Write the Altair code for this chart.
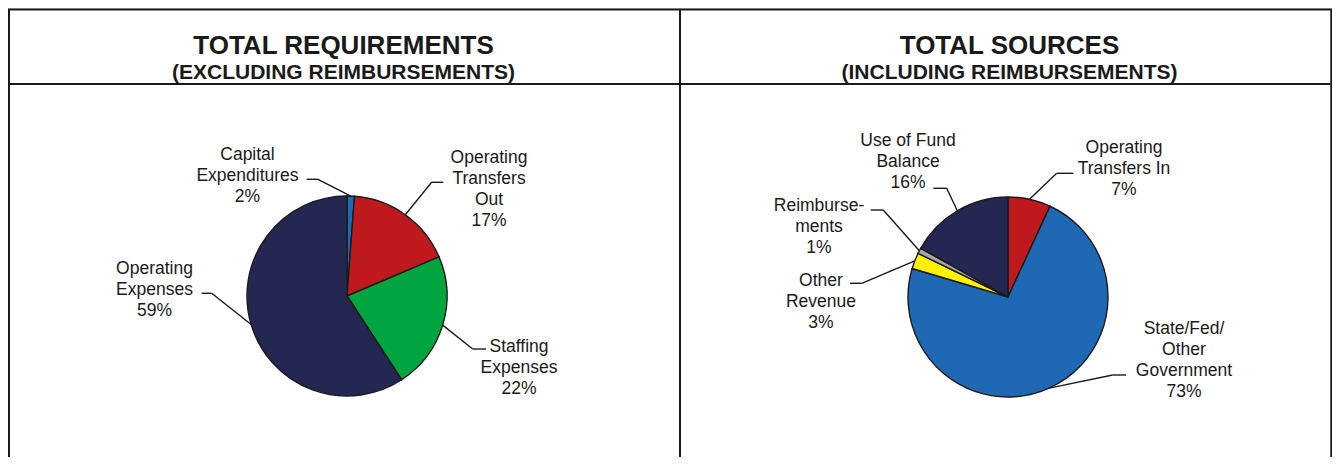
import math
import altair as alt
import pandas as pd

# ---------------- data ----------------
req_names = ["Capital Expenditures", "Operating Transfers Out", "Staffing Expenses", "Operating Expenses"]
req_lines = [["Capital", "Expenditures"], ["Operating", "Transfers", "Out"], ["Staffing", "Expenses"], ["Operating", "Expenses"]]
req_values = [1.2, 17.4, 22.2, 59.2]
req_pct = ["2%", "17%", "22%", "59%"]

src_names = ["Operating Transfers In", "State/Fed/Other Government", "Other Revenue", "Reimbursements", "Use of Fund Balance"]
src_lines = [["Operating", "Transfers In"], ["State/Fed/", "Other", "Government"], ["Other", "Revenue"], ["Reimburse-", "ments"], ["Use of Fund", "Balance"]]
src_values = [6.9, 72.7, 2.6, 0.9, 16.9]
src_pct = ["7%", "73%", "3%", "1%", "16%"]

titles = ["TOTAL REQUIREMENTS", "TOTAL SOURCES"]
subtitles = ["(EXCLUDING REIMBURSEMENTS)", "(INCLUDING REIMBURSEMENTS)"]

# ---------------- styles / layout (page pixel coordinates) ----------------
req_colors = ["#1F69B4", "#BE1A1E", "#00A53F", "#232752"]
src_colors = ["#BE1A1E", "#1F69B4", "#FFF100", "#A6A6A6", "#232752"]
OFF = 8  # page margin
R = 100
centers = [(347, 296), (1008, 297)]
title_cx = [343.5, 1009.5]
FS = 17.5
LH = 21
# per slice: text centre x, cap top y, leader start x, leader y, elbow x
req_layout = [(247.5, 147, 306.7, 179.3, 318.0),
              (489.0, 150, 443.3, 182.3, 431.7),
              (519.0, 339.5, 486.0, 349.0, 472.7),
              (154.5, 261, 201.7, 293.3, 211.7)]
src_layout = [(1124.0, 140.7, 1073.3, 173.3, 1056.7),
              (1184.0, 321.7, 1126.0, 375.0, 1112.7),
              (821.0, 273.3, 850.0, 283.3, 861.7),
              (819.0, 198.3, 870.7, 210.0, 883.3),
              (908.0, 133.3, 933.3, 188.3, 946.7)]

def pie_frames(names, lines, values, pct, layout, center):
    total = sum(values)
    cum = 0.0
    slices, texts, segs = [], [], []
    for i, (n, ln, v, p, lay) in enumerate(zip(names, lines, values, pct, layout)):
        mid = (cum + v / 2) / total * 2 * math.pi
        cum += v
        slices.append({"idx": i, "name": n, "value": v})
        px_ = center[0] + R * math.sin(mid)
        py_ = center[1] - R * math.cos(mid)
        cx, top, hx, hy, ex = lay
        texts.append({"x": cx - OFF, "y": top - 0.074 * FS - OFF, "label": "\n".join(ln + [p])})
        segs.append({"x": hx - OFF, "y": hy - OFF, "x2": ex - OFF, "y2": hy - OFF})
        segs.append({"x": ex - OFF, "y": hy - OFF, "x2": px_ - OFF, "y2": py_ - OFF})
    return pd.DataFrame(slices), pd.DataFrame(texts), pd.DataFrame(segs)

W, H = 1324, 449

def arc_layer(df, names, colors, center):
    return alt.Chart(df).mark_arc(outerRadius=R, stroke="#1a1a1a", strokeWidth=1.4).encode(
        theta=alt.Theta("value:Q", stack=True),
        order=alt.Order("idx:Q"),
        color=alt.Color("name:N", scale=alt.Scale(domain=names, range=colors), legend=None),
        x=alt.value(center[0] - OFF),
        y=alt.value(center[1] - OFF),
    )

def px(field):
    return alt.X(field, type="quantitative", scale=None, axis=None)

def py(field):
    return alt.Y(field, type="quantitative", scale=None, axis=None)

def text_layer(df):
    return alt.Chart(df).mark_text(font="Liberation Sans", fontSize=FS, lineHeight=LH, lineBreak="\n",
                                   align="center", baseline="top", color="#1a1a1a").encode(
        x=px("x"), y=py("y"), text="label:N")

def seg_layer(df, width, color="#1a1a1a"):
    return alt.Chart(df).mark_rule(strokeWidth=width, color=color).encode(
        x=px("x"), y=py("y"), x2="x2:Q", y2="y2:Q")

layers = []
for names, lines, values, pct, layout, colors, center in [
    (req_names, req_lines, req_values, req_pct, req_layout, req_colors, centers[0]),
    (src_names, src_lines, src_values, src_pct, src_layout, src_colors, centers[1]),
]:
    sl, tx, sg = pie_frames(names, lines, values, pct, layout, center)
    layers.append(seg_layer(sg, 1.4))
    layers.append(arc_layer(sl, names, colors, center))
    layers.append(text_layer(tx))

# frame lines (chart coordinates)
frame = pd.DataFrame([
    {"x": 0, "y": 1.5, "x2": W, "y2": 1.5},
    {"x": 1, "y": 1, "x2": 1, "y2": H},
    {"x": 680 - OFF, "y": 1, "x2": 680 - OFF, "y2": H},
    {"x": W - 0.75, "y": 1, "x2": W - 0.75, "y2": H},
    {"x": 0, "y": 84 - OFF, "x2": W, "y2": 84 - OFF},
])
frame_layer = alt.Chart(frame).mark_rule(strokeWidth=2, color="#1a1a1a").encode(
    x=px("x"), y=py("y"), x2="x2:Q", y2="y2:Q")
layers.append(frame_layer)

tdf = pd.DataFrame({"x": [c - OFF for c in title_cx], "t": titles, "s": subtitles})
layers.append(alt.Chart(tdf).mark_text(font="Liberation Sans", fontSize=26, fontWeight="bold",
                                       align="center", baseline="alphabetic", color="#1a1a1a").encode(
    x=px("x"), y=alt.value(54 - OFF), text="t:N"))
layers.append(alt.Chart(tdf).mark_text(font="Liberation Sans", fontSize=21, fontWeight="bold",
                                       align="center", baseline="alphabetic", color="#1a1a1a").encode(
    x=px("x"), y=alt.value(78.5 - OFF), text="s:N"))

chart = alt.layer(*layers).resolve_scale(color="independent", theta="independent").properties(
    width=W, height=H, padding=0, autosize=alt.AutoSizeParams(type="none")
).configure_view(stroke=None).configure(background="white")

chart.save("out.html", embed_options={"renderer": "svg", "actions": False})
